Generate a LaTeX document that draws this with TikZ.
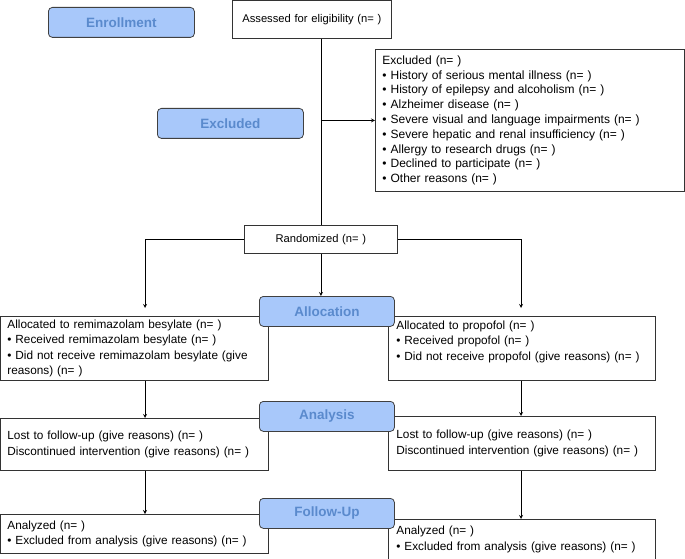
\documentclass[tikz,border=0pt]{standalone}
\usepackage{fontspec}
\setmainfont{Liberation Sans}
\usepackage{xcolor}
\usetikzlibrary{arrows,positioning,calc}
\definecolor{phasefill}{HTML}{A8C8FA}
\definecolor{phasetext}{HTML}{5A8ACD}
\definecolor{phaseline}{HTML}{404040}

\begin{document}
\begin{tikzpicture}[
    x=1pt, y=-1pt,
    phase/.style={rectangle, draw=phaseline, fill=phasefill, thick, rounded corners=4pt, minimum width=146pt, minimum height=30pt, text=phasetext, font=\fontsize{13.5}{15}\selectfont\bfseries, anchor=north west},
    infobox/.style={rectangle, draw=black!80, fill=white, thick, anchor=north west, align=left, inner xsep=7pt, text width=254pt, font=\fontsize{11.8}{15.5}\selectfont},
    rightbox/.style={infobox, inner xsep=8pt, text width=251pt},
    arrow/.style={->, >=stealth, thick}
]
    \useasboundingbox (0,0) rectangle (685,559);

    % Columns
    \coordinate (lcol) at (145,0);
    \coordinate (rcol) at (521,0);

    % Enrollment
    \node[infobox, align=center, text width=145pt, minimum height=38pt, font=\fontsize{11.2}{14}\selectfont] (assessed) at (232,0) {Assessed for eligibility (n= )};
    \node[infobox, text width=295pt, minimum height=142pt, font=\fontsize{12}{14.8}\selectfont] (excl) at (375,49) {Excluded (n= )\\
        • History of serious mental illness (n= )\\
        • History of epilepsy and alcoholism (n= )\\
        • Alzheimer disease (n= )\\
        • Severe visual and language impairments (n= )\\
        • Severe hepatic and renal insufficiency (n= )\\
        • Allergy to research drugs (n= )\\
        • Declined to participate (n= )\\
        • Other reasons (n= )};
    \node[infobox, align=center, text width=139pt, minimum height=28pt, font=\fontsize{11.2}{14}\selectfont] (random) at (244,225) {Randomized (n= )};

    % Allocation
    \node[infobox, minimum height=62pt] (alloca) at (0,316) {Allocated to remimazolam besylate (n= )\\
        • Received remimazolam besylate (n= )\\
        • Did not receive remimazolam besylate (give\\
        reasons) (n= )};
    \node[rightbox, minimum height=64pt] (allocb) at (388,316) {Allocated to propofol (n= )\\
        • Received propofol (n= )\\
        • Did not receive propofol (give reasons) (n= )\\ \mbox{}};

    % Follow-up
    \node[infobox, minimum height=52pt] (losta) at (0,418) {Lost to follow-up (give reasons) (n= )\\
        Discontinued intervention (give reasons) (n= )};
    \node[rightbox, minimum height=54pt] (lostb) at (388,416) {Lost to follow-up (give reasons) (n= )\\
        Discontinued intervention (give reasons) (n= )};

    % Analysis
    \node[infobox, minimum height=39pt] (anala) at (0,514) {Analyzed (n= )\\
        • Excluded from analysis (give reasons) (n= )};
    \node[rightbox, minimum height=40pt] (analb) at (388,519) {Analyzed (n= )\\
        • Excluded from analysis (give reasons) (n= )};

    % Phase labels
    \node[phase] (enroll) at (48,7) {Enrollment};
    \node[phase] (exclab) at (157,108) {Excluded};
    \node[phase, minimum width=135pt] (alloclab) at (259,296) {Allocation};
    \node[phase, minimum width=135pt] (analab) at (259,401) {Analysis};
    \node[phase, minimum width=135pt] (follab) at (259,498) {Follow-Up};

    % Arrows
    \draw[thick] (random.north |- assessed.south) -- (random.north);
    \draw[arrow] (random.north |- excl.west) -- (excl.west);
    \draw[arrow, shorten >=8pt] (random.west) -| (alloca.north -| lcol);
    \draw[arrow, shorten >=8pt] (random.east) -| (allocb.north -| rcol);
    \draw[arrow] (random.south) -- (alloclab.north -| random.south);
    \draw[arrow] (alloca.south -| lcol) -- (losta.north -| lcol);
    \draw[arrow] (allocb.south -| rcol) -- (lostb.north -| rcol);
    \draw[arrow] (losta.south -| lcol) -- (anala.north -| lcol);
    \draw[arrow] (lostb.south -| rcol) -- (analb.north -| rcol);
\end{tikzpicture}
\end{document}
